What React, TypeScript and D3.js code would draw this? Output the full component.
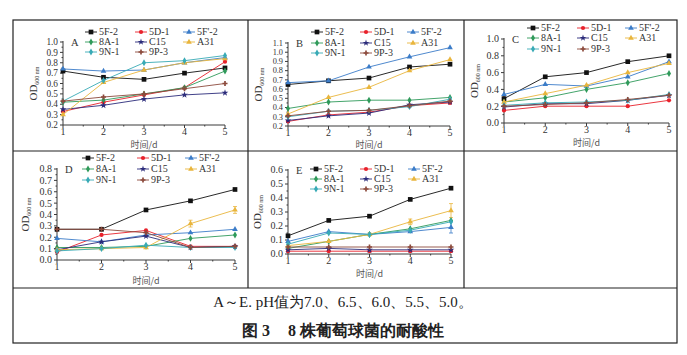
import React from "react";
import * as d3 from "d3";

const days = [1, 2, 3, 4, 5];
const seriesNames = ["5F-2", "5D-1", "5F'-2", "8A-1", "C15", "A31", "9N-1", "9P-3"];
const seriesColors = ["#111111", "#e8212b", "#3b7cc8", "#2f9a5a", "#2b2b7a", "#e9b53c", "#38aab6", "#8c4a3c"];
const seriesSymbols = [d3.symbolSquare, d3.symbolCircle, d3.symbolTriangle, d3.symbolDiamond, d3.symbolStar, d3.symbolTriangle, d3.symbolDiamond, d3.symbolCross];

// Panel A: pH 7.0
const panelA = [
  [0.72, 0.66, 0.64, 0.70, 0.75],
  [0.33, 0.42, 0.49, 0.56, 0.81],
  [0.74, 0.72, 0.73, 0.80, 0.85],
  [0.42, 0.44, 0.50, 0.56, 0.72],
  [0.35, 0.39, 0.45, 0.49, 0.51],
  [0.30, 0.61, 0.73, 0.80, 0.84],
  [0.43, 0.63, 0.80, 0.82, 0.87],
  [0.43, 0.47, 0.50, 0.55, 0.60],
];
// Panel B: pH 6.5
const panelB = [
  [0.65, 0.69, 0.72, 0.84, 0.87],
  [0.25, 0.32, 0.35, 0.42, 0.45],
  [0.67, 0.69, 0.84, 0.95, 1.05],
  [0.39, 0.46, 0.48, 0.48, 0.51],
  [0.26, 0.31, 0.34, 0.43, 0.46],
  [0.33, 0.51, 0.62, 0.80, 0.92],
  [0.30, 0.36, 0.37, 0.41, 0.49],
  [0.31, 0.36, 0.37, 0.42, 0.47],
];
// Panel C: pH 6.0
const panelC = [
  [0.29, 0.55, 0.60, 0.73, 0.80],
  [0.15, 0.20, 0.20, 0.20, 0.27],
  [0.34, 0.46, 0.44, 0.55, 0.73],
  [0.25, 0.30, 0.40, 0.48, 0.59],
  [0.19, 0.23, 0.23, 0.27, 0.33],
  [0.25, 0.35, 0.45, 0.60, 0.71],
  [0.21, 0.24, 0.25, 0.27, 0.34],
  [0.20, 0.22, 0.24, 0.28, 0.33],
];
// Panel D: pH 5.5
const panelD = [
  [0.27, 0.27, 0.44, 0.52, 0.62],
  [0.07, 0.22, 0.26, 0.12, 0.12],
  [0.19, 0.16, 0.22, 0.24, 0.27],
  [0.11, 0.11, 0.12, 0.19, 0.22],
  [0.09, 0.16, 0.21, 0.11, 0.12],
  [0.09, 0.10, 0.11, 0.32, 0.44],
  [0.08, 0.10, 0.13, 0.11, 0.11],
  [0.27, 0.27, 0.24, 0.11, 0.12],
];
// Panel E: pH 5.0
const panelE = [
  [0.13, 0.24, 0.27, 0.39, 0.47],
  [0.02, 0.02, 0.02, 0.02, 0.02],
  [0.09, 0.16, 0.14, 0.16, 0.19],
  [0.04, 0.09, 0.14, 0.18, 0.24],
  [0.03, 0.04, 0.03, 0.03, 0.03],
  [0.06, 0.09, 0.14, 0.23, 0.31],
  [0.07, 0.15, 0.14, 0.17, 0.23],
  [0.05, 0.05, 0.05, 0.05, 0.05],
];
const errorsD_A31 = [0, 0, 0, 0.03, 0.03];
const errorsE_A31 = [0, 0, 0.01, 0.02, 0.05];
const errorsE_5F2b = [0, 0, 0, 0, 0.04];

const yTicksA = [0.2, 0.3, 0.4, 0.5, 0.6, 0.7, 0.8, 0.9, 1.0];
const yTicksB = [0.2, 0.3, 0.4, 0.5, 0.6, 0.7, 0.8, 0.9, 1.0, 1.1];
const yTicksC = [0.0, 0.2, 0.4, 0.6, 0.8, 1.0];
const yTicksD = [0.0, 0.1, 0.2, 0.3, 0.4, 0.5, 0.6, 0.7, 0.8];
const yTicksE = [0.0, 0.1, 0.2, 0.3, 0.4, 0.5, 0.6];

const xTitle = "时间/d";
const caption1 = "A～E. pH值为7.0、6.5、6.0、5.5、5.0。";
const caption2a = "图 3";
const caption2b = "8 株葡萄球菌的耐酸性";

type Panel = {
  letter: string;
  data: number[][];
  ticks: number[];
  tickFont: number;
  errors: { idx: number; err: number[] }[];
  x0: number; x1: number; yTop: number; yBot: number;
  yLabelX: number; legendRows: number[]; legendCols: number[];
  titleY: number;
};

const panels: Panel[] = [
  { letter: "A", data: panelA, ticks: yTicksA, tickFont: 9.3, errors: [], x0: 63, x1: 225, yTop: 42, yBot: 125, yLabelX: 37, legendRows: [32, 42, 52], legendCols: [22, 72, 120], titleY: 148 },
  { letter: "B", data: panelB, ticks: yTicksB, tickFont: 8.3, errors: [], x0: 288, x1: 450, yTop: 43, yBot: 126, yLabelX: 262, legendRows: [32, 43, 53], legendCols: [23, 72, 119], titleY: 148 },
  { letter: "C", data: panelC, ticks: yTicksC, tickFont: 10, errors: [], x0: 504, x1: 669, yTop: 39, yBot: 123, yLabelX: 478, legendRows: [28, 38, 49], legendCols: [23, 73, 121], titleY: 146 },
  { letter: "D", data: panelD, ticks: yTicksD, tickFont: 10, errors: [{ idx: 5, err: errorsD_A31 }], x0: 57, x1: 235, yTop: 169, yBot: 260, yLabelX: 29, legendRows: [158, 169, 180], legendCols: [25, 80, 128], titleY: 284 },
  { letter: "E", data: panelE, ticks: yTicksE, tickFont: 10, errors: [{ idx: 5, err: errorsE_A31 }, { idx: 2, err: errorsE_5F2b }], x0: 288, x1: 451, yTop: 170, yBot: 254, yLabelX: 261, legendRows: [169, 179, 189], legendCols: [22, 72, 120], titleY: 277 },
];

const serif = "'Liberation Serif', 'Times New Roman', serif";
const cjk = "'Noto Sans CJK SC', sans-serif";
const axisColor = "#3a3a3a";

function PanelView({ p }: { p: Panel }) {
  const x = d3.scaleLinear().domain([1, 5]).range([p.x0, p.x1]);
  const y = d3.scaleLinear().domain([p.ticks[0], p.ticks[p.ticks.length - 1]]).range([p.yBot, p.yTop]);
  const line = d3.line<number>().x((_, i) => x(days[i])).y((v) => y(v));
  const step = p.ticks[1] - p.ticks[0];
  const midY = (p.yTop + p.yBot) / 2;
  return (
    <g>
      <line x1={p.x0} x2={p.x0} y1={p.yTop - 1} y2={p.yBot} stroke={axisColor} strokeWidth={1} />
      <line x1={p.x0} x2={p.x1} y1={p.yBot} y2={p.yBot} stroke={axisColor} strokeWidth={1} />
      {p.ticks.map((t) => (
        <g key={"yt" + t}>
          <line x1={p.x0 - 3} x2={p.x0} y1={y(t)} y2={y(t)} stroke={axisColor} />
          <text x={p.x0 - 5} y={y(t)} dy="0.34em" textAnchor="end" fontFamily={serif} fontSize={p.tickFont} fill="#333">
            {t.toFixed(1)}
          </text>
        </g>
      ))}
      {p.ticks.slice(0, -1).map((t) => (
        <line key={"ym" + t} x1={p.x0 - 1.5} x2={p.x0} y1={y(t + step / 2)} y2={y(t + step / 2)} stroke={axisColor} />
      ))}
      {days.map((d) => (
        <g key={"xt" + d}>
          <line x1={x(d)} x2={x(d)} y1={p.yBot} y2={p.yBot + 3} stroke={axisColor} />
          <text x={x(d)} y={p.yBot + 10} textAnchor="middle" fontFamily={serif} fontSize={10} fill="#333">{d}</text>
        </g>
      ))}
      {days.slice(0, -1).map((d) => (
        <line key={"xm" + d} x1={x(d + 0.5)} x2={x(d + 0.5)} y1={p.yBot} y2={p.yBot + 1.5} stroke={axisColor} />
      ))}
      <text transform={`translate(${p.yLabelX},${midY}) rotate(-90)`} textAnchor="middle" fontFamily={serif} fontSize={11} fill="#333">
        OD<tspan fontSize={6} dy={2}>600 nm</tspan>
      </text>
      <text x={(p.x0 + p.x1) / 2} y={p.titleY} textAnchor="middle" fontFamily={cjk} fontSize={9} fill="#555">{xTitle}</text>
      <text x={p.x0 + 8} y={p.yTop} dy="0.34em" fontFamily={serif} fontSize={10.5} fill="#333">{p.letter}</text>
      {p.errors.map((e) =>
        e.err.map((v, i) =>
          v > 0 ? (
            <g key={"e" + e.idx + i} stroke={seriesColors[e.idx]} strokeWidth={0.8}>
              <line x1={x(days[i])} x2={x(days[i])} y1={y(p.data[e.idx][i] - v)} y2={y(p.data[e.idx][i] + v)} />
              <line x1={x(days[i]) - 2} x2={x(days[i]) + 2} y1={y(p.data[e.idx][i] + v)} y2={y(p.data[e.idx][i] + v)} />
              <line x1={x(days[i]) - 2} x2={x(days[i]) + 2} y1={y(p.data[e.idx][i] - v)} y2={y(p.data[e.idx][i] - v)} />
            </g>
          ) : null
        )
      )}
      {p.data.map((vals, si) => (
        <g key={"s" + si}>
          <path d={line(vals) || ""} fill="none" stroke={seriesColors[si]} strokeWidth={0.9} />
          {vals.map((v, i) => (
            <path key={i} transform={`translate(${x(days[i])},${y(v)})`} d={d3.symbol().type(seriesSymbols[si]).size(si === 0 ? 22 : 14)() || ""} fill={seriesColors[si]} />
          ))}
        </g>
      ))}
      {seriesNames.map((name, si) => {
        const col = si % 3;
        const row = Math.floor(si / 3);
        const lx = p.x0 + p.legendCols[col];
        const ly = p.legendRows[row];
        return (
          <g key={"l" + si}>
            <line x1={lx} x2={lx + 12} y1={ly} y2={ly} stroke={seriesColors[si]} strokeWidth={0.9} />
            <path transform={`translate(${lx + 6},${ly})`} d={d3.symbol().type(seriesSymbols[si]).size(si === 0 ? 22 : 14)() || ""} fill={seriesColors[si]} />
            <text x={lx + 14} y={ly} dy="0.34em" fontFamily={serif} fontSize={10} fill="#333">{name}</text>
          </g>
        );
      })}
    </g>
  );
}

export default function App() {
  const W = 687, H = 355;
  return (
    <svg width={W} height={H} style={{ position: "absolute", left: 0, top: 0, background: "#fff" }}>
      <rect x={0} y={0} width={W} height={H} fill="#fff" />
      <g stroke="#222" strokeWidth={1.2} fill="none">
        <rect x={13} y={20} width={664} height={323} />
        <line x1={13} x2={677} y1={151} y2={151} />
        <line x1={13} x2={677} y1={288} y2={288} />
        <line x1={248} x2={248} y1={20} y2={288} />
        <line x1={464} x2={464} y1={20} y2={288} />
      </g>
      {panels.map((p) => <PanelView key={p.letter} p={p} />)}
      <text x={343} y={307} textAnchor="middle" fontFamily={serif} fontSize={15} fill="#222">
        {caption1}
      </text>
      <text x={343} y={336} textAnchor="middle" fontFamily={serif} fontSize={16} fontWeight="bold" fill="#222">
        <tspan>{caption2a}</tspan>
        <tspan dx={18}>{caption2b}</tspan>
      </text>
    </svg>
  );
}
